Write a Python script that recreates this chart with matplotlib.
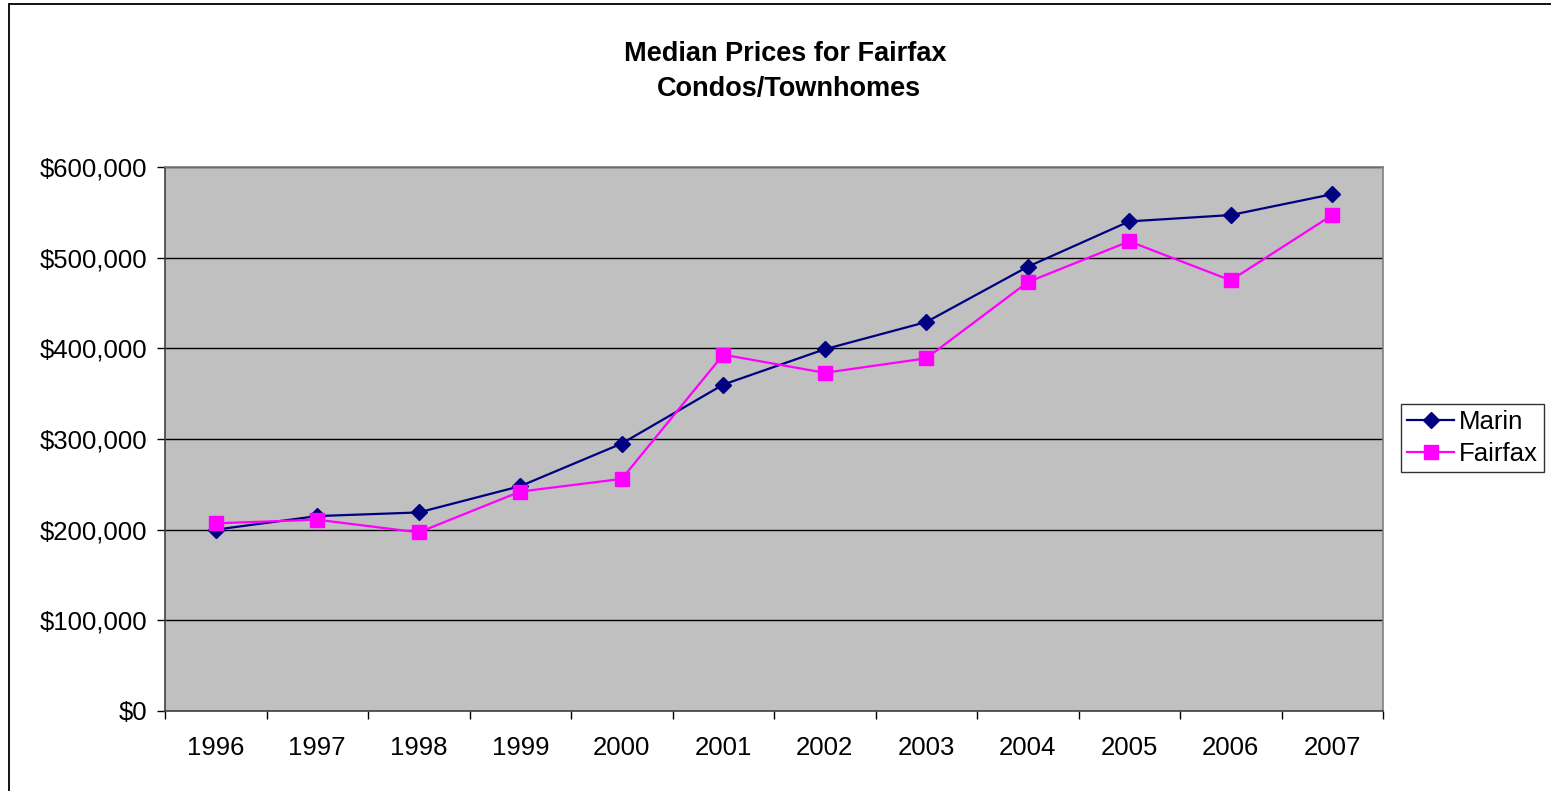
import matplotlib
matplotlib.use("Agg")
import matplotlib.pyplot as plt
from matplotlib.patches import Rectangle
from matplotlib.ticker import FuncFormatter, FixedLocator

years = ["1996", "1997", "1998", "1999", "2000", "2001", "2002", "2003", "2004", "2005", "2006", "2007"]
marin = [200000, 215000, 219000, 248000, 295000, 360000, 399000, 429000, 490000, 540000, 547000, 570000]
fairfax = [207000, 211000, 197000, 242000, 256000, 393000, 373000, 389000, 473000, 518000, 475000, 547000]

plt.rcParams['font.family'] = ['Liberation Sans', 'DejaVu Sans']

W, H = 1551, 791
fig = plt.figure(figsize=(W / 100, H / 100), dpi=100)
fig.patch.set_facecolor('white')

# outer chart border
fig.patches.append(Rectangle((9 / W, 1 - 800 / H), 1600 / W, (800 - 4) / H,
                             transform=fig.transFigure, fill=False,
                             edgecolor='black', linewidth=1.3))

ax = fig.add_axes([165 / W, 1 - 711 / H, (1383 - 165) / W, (711 - 167) / H])
ax.set_facecolor('#C0C0C0')

x = list(range(len(years)))
ax.plot(x, marin, color='#000080', marker='D', markersize=8, linewidth=1.6,
        markerfacecolor='#000080', markeredgecolor='#000080', label='Marin', zorder=3)
ax.plot(x, fairfax, color='#FF00FF', marker='s', markersize=9.5, linewidth=1.6,
        markerfacecolor='#FF00FF', markeredgecolor='#FF00FF', label='Fairfax', zorder=3)

ax.set_xlim(-0.5, len(years) - 0.5)
ax.set_ylim(0, 600000)
ax.set_yticks(range(0, 600001, 100000))
ax.yaxis.set_major_formatter(FuncFormatter(lambda v, p: "${:,.0f}".format(v)))
ax.grid(axis='y', color='black', linewidth=1)
ax.set_axisbelow(True)

# x ticks at category boundaries, labels at centres
ax.xaxis.set_major_locator(FixedLocator([i - 0.5 for i in range(len(years) + 1)]))
ax.xaxis.set_major_formatter(FuncFormatter(lambda v, p: ""))
ax.xaxis.set_minor_locator(FixedLocator(x))
ax.set_xticklabels(years, minor=True)
ax.tick_params(axis='x', which='major', direction='out', length=6, width=1, color='black')
ax.tick_params(axis='x', which='minor', length=0, pad=18, labelsize=18.5)
ax.tick_params(axis='y', direction='out', length=6, width=1, color='black', labelsize=18.5, pad=7)

for s in ['left', 'bottom']:
    ax.spines[s].set_color('#404040')
    ax.spines[s].set_linewidth(1.2)
for s in ['top', 'right']:
    ax.spines[s].set_color('#808080')
    ax.spines[s].set_linewidth(1.2)

fig.text(785 / W, 1 - 54 / H, "Median Prices for Fairfax", ha='center', va='center',
         fontsize=19.5, fontweight='bold')
fig.text(789 / W, 1 - 89 / H, "Condos/Townhomes", ha='center', va='center',
         fontsize=19.5, fontweight='bold')

leg = ax.legend(loc='center left', bbox_to_anchor=(1401 / W, 1 - 438 / H),
                bbox_transform=fig.transFigure, fontsize=18.5, frameon=True,
                fancybox=False, edgecolor='black', handlelength=1.8,
                handletextpad=0.2, borderpad=0.25, labelspacing=0.3,
                borderaxespad=0)
leg.get_frame().set_linewidth(1)

fig.savefig("out.png", dpi=100)
